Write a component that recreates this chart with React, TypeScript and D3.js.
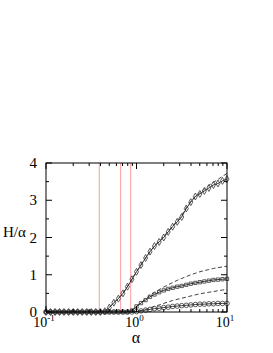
import React from "react";
import * as d3 from "d3";

// alpha grid (20 points per decade)
const alphas = [
  0.1, 0.112, 0.126, 0.141, 0.158, 0.178, 0.2, 0.224, 0.251, 0.282, 0.316,
  0.355, 0.398, 0.447, 0.501, 0.562, 0.631, 0.708, 0.794, 0.891, 1.0, 1.12,
  1.26, 1.41, 1.58, 1.78, 2.0, 2.24, 2.51, 2.82, 3.16, 3.55, 3.98, 4.47, 5.01,
  5.62, 6.31, 7.08, 7.94, 8.91, 10.0,
];

// top series (diamonds, solid)
const topVals = [
  0, 0, 0, 0, 0, 0, 0, 0, 0, 0, 0, 0, 0, 0.02, 0.12, 0.25, 0.36, 0.5, 0.68,
  0.88, 1.08, 1.26, 1.45, 1.62, 1.77, 1.88, 2.0, 2.15, 2.29, 2.42, 2.55, 2.78,
  2.95, 3.1, 3.17, 3.25, 3.33, 3.41, 3.45, 3.52, 3.57,
];
const topDash = [
  0, 0, 0, 0, 0, 0, 0, 0, 0, 0, 0, 0, 0, 0.02, 0.12, 0.25, 0.36, 0.5, 0.68,
  0.88, 1.08, 1.26, 1.45, 1.62, 1.77, 1.9, 2.03, 2.17, 2.31, 2.45, 2.6, 2.8,
  2.97, 3.11, 3.2, 3.3, 3.4, 3.48, 3.56, 3.64, 3.72,
];

// middle series (squares)
const midVals = [
  0, 0, 0, 0, 0, 0, 0, 0, 0, 0, 0, 0, 0, 0, 0, 0, 0, 0, 0, 0.04, 0.15, 0.24,
  0.32, 0.41, 0.47, 0.53, 0.58, 0.62, 0.65, 0.68, 0.7, 0.73, 0.76, 0.78, 0.8,
  0.82, 0.84, 0.86, 0.87, 0.88, 0.89,
];
const midDash = [
  0, 0, 0, 0, 0, 0, 0, 0, 0, 0, 0, 0, 0, 0, 0, 0, 0, 0, 0, 0.04, 0.15, 0.25,
  0.35, 0.45, 0.53, 0.6, 0.67, 0.73, 0.79, 0.85, 0.9, 0.95, 1.0, 1.04, 1.08,
  1.11, 1.14, 1.17, 1.19, 1.21, 1.23,
];

// bottom series (circles)
const lowVals = [
  0, 0, 0, 0, 0, 0, 0, 0, 0, 0, 0, 0, 0, 0, 0, 0, 0, 0, 0, 0, 0.01, 0.03,
  0.05, 0.07, 0.09, 0.1, 0.12, 0.13, 0.15, 0.16, 0.17, 0.18, 0.19, 0.2, 0.21,
  0.21, 0.22, 0.22, 0.23, 0.23, 0.23,
];
const lowDash = [
  0, 0, 0, 0, 0, 0, 0, 0, 0, 0, 0, 0, 0, 0, 0, 0, 0, 0, 0, 0, 0.01, 0.04,
  0.07, 0.11, 0.15, 0.19, 0.23, 0.27, 0.31, 0.34, 0.37, 0.4, 0.43, 0.46, 0.49,
  0.51, 0.53, 0.55, 0.57, 0.59, 0.6,
];

const redLines = [0.388, 0.668, 0.863];
const yTicks = [0, 1, 2, 3, 4];
const yMinor = [0.5, 1.5, 2.5, 3.5];
const xMajor = [0.1, 1, 10];
const xMajorExp = ["-1", "0", "1"];

const W = 273;
const H = 353;
const left = 46;
const right = 227;
const top = 163;
const bottom = 312;

const App: React.FC = () => {
  const x = d3.scaleLog().domain([0.1, 10]).range([left, right]);
  const y = d3.scaleLinear().domain([0, 4]).range([bottom, top]);

  const xMinor: number[] = [];
  [0.1, 1].forEach((d) => {
    for (let m = 2; m <= 9; m++) xMinor.push(d * m);
  });

  const line = (vals: number[], from = 0) =>
    d3
      .line<number>()
      .x((_, i) => x(alphas[i + from]))
      .y((d) => y(d))(vals.slice(from)) || "";

  const diamond = d3.symbol().type(d3.symbolDiamond).size(14)() || "";
  const square = d3.symbol().type(d3.symbolSquare).size(11)() || "";
  const stroke = "#333";

  return (
    <svg
      width={W}
      height={H}
      style={{ position: "absolute", left: 0, top: 0, background: "#fff" }}
      fontFamily="'Liberation Serif', 'DejaVu Serif', serif"
    >
      {/* reference lines */}
      {redLines.map((a) => (
        <line
          key={a}
          x1={x(a)}
          x2={x(a)}
          y1={top}
          y2={bottom}
          stroke="#ff9c9c"
          strokeWidth={1}
        />
      ))}

      {/* dashed curves */}
      {[topDash, midDash, lowDash].map((v, i) => (
        <path
          key={"d" + i}
          d={line(v, i === 0 ? 13 : 19)}
          fill="none"
          stroke="#111"
          strokeWidth={0.8}
          strokeDasharray="4,2.5"
        />
      ))}

      {/* solid curves */}
      {[topVals, midVals, lowVals].map((v, i) => (
        <path
          key={"s" + i}
          d={line(v)}
          fill="none"
          stroke="#222"
          strokeWidth={0.9}
        />
      ))}

      {/* markers */}
      {lowVals.map((v, i) => (
        <circle
          key={"c" + i}
          cx={x(alphas[i])}
          cy={y(v)}
          r={2.3}
          fill="none"
          stroke={stroke}
          strokeWidth={0.8}
        />
      ))}
      {midVals.map((v, i) => (
        <path
          key={"q" + i}
          d={square}
          transform={`translate(${x(alphas[i])},${y(v)})`}
          fill="none"
          stroke={stroke}
          strokeWidth={0.8}
        />
      ))}
      {topVals.map((v, i) => (
        <path
          key={"t" + i}
          d={diamond}
          transform={`translate(${x(alphas[i])},${y(v)})`}
          fill="none"
          stroke={stroke}
          strokeWidth={0.8}
        />
      ))}

      {/* frame */}
      <rect
        x={left}
        y={top}
        width={right - left}
        height={bottom - top}
        fill="none"
        stroke="#000"
        strokeWidth={1}
      />

      {/* y ticks */}
      {yTicks.map((t) => (
        <g key={"yt" + t}>
          <line x1={left} x2={left + 6} y1={y(t)} y2={y(t)} stroke="#000" />
          <line x1={right} x2={right - 6} y1={y(t)} y2={y(t)} stroke="#000" />
          <text
            x={37}
            y={y(t) + 5}
            textAnchor="end"
            fontSize={15}
          >
            {t}
          </text>
        </g>
      ))}
      {yMinor.map((t) => (
        <g key={"ym" + t}>
          <line x1={left} x2={left + 3} y1={y(t)} y2={y(t)} stroke="#000" />
          <line x1={right} x2={right - 3} y1={y(t)} y2={y(t)} stroke="#000" />
        </g>
      ))}

      {/* x ticks */}
      {xMajor.map((t, i) => (
        <g key={"xt" + t}>
          <line x1={x(t)} x2={x(t)} y1={bottom} y2={bottom - 6} stroke="#000" />
          <line x1={x(t)} x2={x(t)} y1={top} y2={top + 6} stroke="#000" />
          <text x={x(t) - 2} y={327} textAnchor="middle" fontSize={14}>
            10
            <tspan fontSize={9} dy={-6}>
              {xMajorExp[i]}
            </tspan>
          </text>
        </g>
      ))}
      {xMinor.map((t) => (
        <g key={"xm" + t}>
          <line x1={x(t)} x2={x(t)} y1={bottom} y2={bottom - 3} stroke="#000" />
          <line x1={x(t)} x2={x(t)} y1={top} y2={top + 3} stroke="#000" />
        </g>
      ))}

      {/* axis labels */}
      <text x={136} y={343} textAnchor="middle" fontSize={16}>
        α
      </text>
      <text x={3} y={237} fontSize={15}>
        H/α
      </text>
    </svg>
  );
};

export default App;
